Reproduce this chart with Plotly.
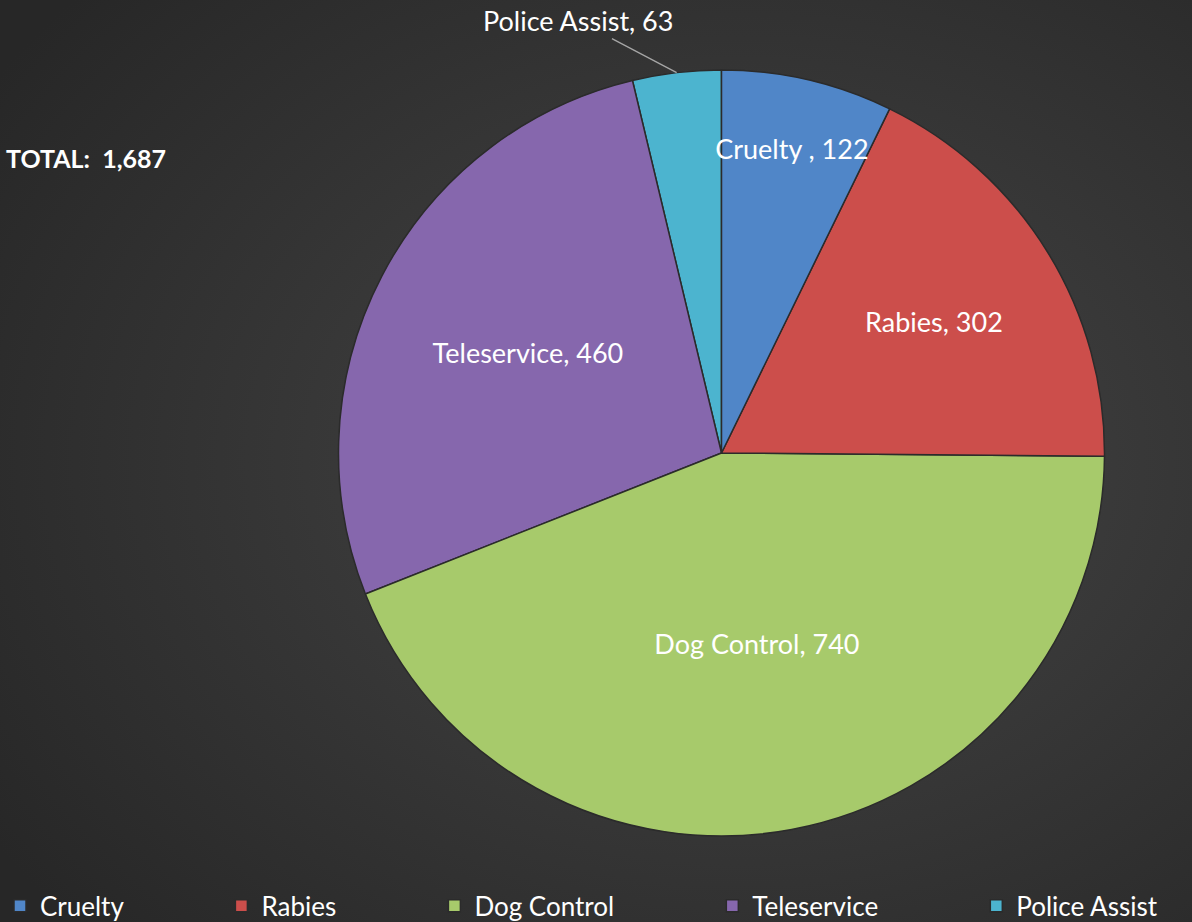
import base64
import math
import plotly.graph_objects as go

# data
categories = ['Cruelty', 'Rabies', 'Dog Control', 'Teleservice', 'Police Assist']
counts = [122, 302, 740, 460, 63]
slice_text = ['Cruelty , 122', 'Rabies, 302', 'Dog Control, 740', 'Teleservice, 460', '']
outside_label = 'Police Assist, 63'
colors = ['#5086c8', '#cc4e4b', '#a7ca6b', '#8667ad', '#4cb4cf']

W, H = 1192, 922
pie_x = [338 / W, 1105 / W]
pie_y = [1 - 836 / H, 1 - 70 / H]

# dark radial background (excel style)
svg = f'''<svg xmlns="http://www.w3.org/2000/svg" width="{W}" height="{H}">
<defs><radialGradient id="g" cx="0.62" cy="0.5" r="0.75">
<stop offset="0" stop-color="#464646"/><stop offset="1" stop-color="#272727"/>
</radialGradient></defs>
<rect width="{W}" height="{H}" fill="url(#g)"/></svg>'''
bg = 'data:image/svg+xml;base64,' + base64.b64encode(svg.encode()).decode()

# legend entries padded so the items spread out like the excel legend
legend_names = [c + '\u00a0' * 14 for c in categories[:-1]] + [categories[-1]]

# slices fed in reverse and drawn counter-clockwise: same layout, but the
# small slice is painted first so it does not cover the Cruelty label
last_share = counts[-1] / sum(counts) * 360
fig = go.Figure(go.Pie(
    labels=legend_names[::-1],
    values=counts[::-1],
    text=slice_text[::-1],
    customdata=categories[::-1],
    textinfo='text',
    textposition='inside',
    insidetextorientation='horizontal',
    sort=False,
    direction='counterclockwise',
    rotation=-last_share,
    marker=dict(colors=colors[::-1], line=dict(color='#2b2b2b', width=1.5)),
    textfont=dict(family='Lato', size=27, color='white'),
    domain=dict(x=pie_x, y=pie_y),
    hovertemplate='%{customdata}: %{value} (%{percent})<extra></extra>',
))

# leader line for the small slice, pointing at its outer mid-angle
cx = (pie_x[0] + pie_x[1]) / 2
cy = (pie_y[0] + pie_y[1]) / 2
r_px = min((pie_x[1] - pie_x[0]) * W, (pie_y[1] - pie_y[0]) * H) / 2
mid = (sum(counts) - counts[-1] / 2) / sum(counts) * 2 * math.pi
tip_x = cx + r_px * math.sin(mid) / W
tip_y = cy + r_px * math.cos(mid) / H

fig.update_layout(
    width=W, height=H,
    margin=dict(l=0, r=0, t=0, b=0, autoexpand=False),
    paper_bgcolor='#333333',
    plot_bgcolor='#333333',
    uniformtext=dict(minsize=27, mode='show'),
    images=[dict(source=bg, xref='paper', yref='paper', x=0, y=1,
                 sizex=1, sizey=1, xanchor='left', yanchor='top',
                 sizing='stretch', layer='below')],
    legend=dict(orientation='h', x=0, y=-0.008, xanchor='left', yanchor='bottom',
                traceorder='reversed',
                font=dict(family='Lato', size=26, color='white'),
                bgcolor='rgba(0,0,0,0)', itemwidth=30),
    annotations=[
        dict(text='<b>TOTAL:  {:,}</b>'.format(sum(counts)),
             xref='paper', yref='paper', x=4 / W, y=1 - 158 / H,
             xanchor='left', yanchor='middle', showarrow=False,
             font=dict(family='Lato', size=25, color='white')),
        dict(text=outside_label, xref='paper', yref='paper', x=tip_x, y=tip_y,
             ax=-99, ay=-52, showarrow=True, arrowhead=0, arrowwidth=1.3,
             arrowcolor='#a6a6a6', standoff=0,
             font=dict(family='Lato', size=27, color='white')),
    ],
)

fig.write_html('out.html', config={'displayModeBar': False},
               post_script="document.body.style.margin='0px';")
